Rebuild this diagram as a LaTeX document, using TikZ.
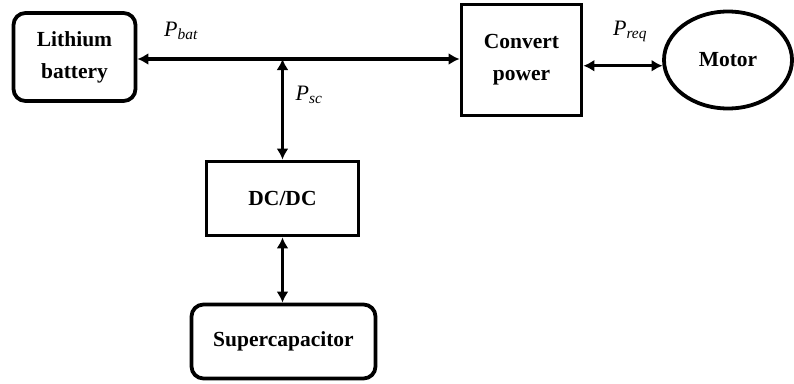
\documentclass[tikz,border=0pt]{standalone}
\usepackage{fontspec}
\setmainfont{Liberation Serif}
\usetikzlibrary{arrows.meta,positioning,shapes.geometric}

\begin{document}
\begin{tikzpicture}[x=1pt,y=-1pt,
  font=\fontsize{21.5}{32}\selectfont\bfseries,
  rb/.style={draw,line width=3.8pt,rounded corners=12pt,align=center,inner sep=0pt},
  sb/.style={draw,line width=3.8pt,align=center,inner sep=0pt},
  lbl/.style={font=\fontsize{22}{26}\selectfont\itshape},
  a/.style={line width=3.2pt,-{Latex[length=11pt,width=12pt]}},
  aa/.style={line width=3.2pt,{Latex[length=11pt,width=12pt]}-{Latex[length=11pt,width=12pt]}}]
\useasboundingbox (0,0) rectangle (794,383);
% blocks
\node[rb,minimum width=122pt,minimum height=88pt] (bat) at (74.5,57) {Lithium\\battery};
\node[sb,minimum width=120pt,minimum height=111pt] (conv) at (521.5,60) {Convert\\power};
\node[draw,ellipse,line width=3.8pt,inner sep=0pt,minimum width=128pt,minimum height=97pt] (motor) at (728,60) {Motor};
\node[sb,minimum width=152pt,minimum height=74pt] (dcdc) at (282.5,198.5) {DC/DC};
\node[rb,minimum width=184pt,minimum height=74pt] (sc) at (283.5,341.5) {Supercapacitor};
\coordinate (J) at (282.5,59);
% power flows
\draw[a] (J) -- (J -| bat.east);
\draw[a] (J) -- (J -| conv.west);
\draw[aa] (J) -- (dcdc.north);
\draw[aa] (dcdc.south) -- (dcdc.south |- sc.north);
\draw[aa] (motor.185 -| conv.east) -- (motor.185);
% labels
\node[lbl] (pbat) at (181,31) {P\textsubscript{bat}};
\node[lbl] (psc) at (309,95) {P\textsubscript{sc}};
\node[lbl] (preq) at (630,31) {P\textsubscript{req}};
\end{tikzpicture}
\end{document}
